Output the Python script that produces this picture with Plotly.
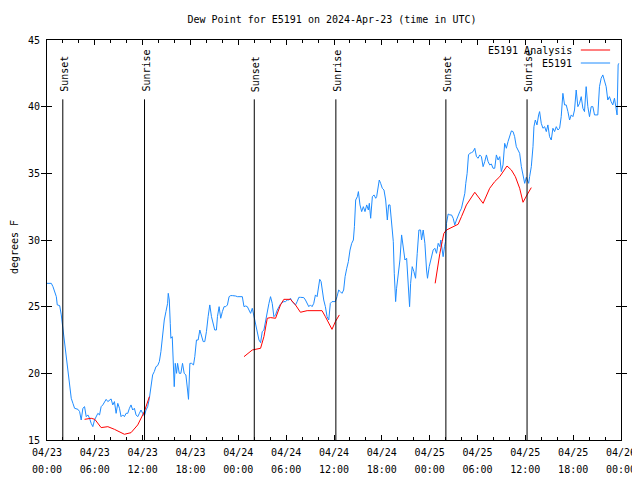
import pandas as pd
import plotly.graph_objects as go

# ---------------- data ----------------
start_date = "2024-04-23 00:00"
end_date = "2024-04-26 00:00"

# station observations (hours after start, degrees F)
obs_hours = [0.0, 0.54, 0.75, 0.96, 1.17, 1.29, 1.59, 1.79, 2.0, 2.21, 2.42, 2.63, 2.84, 3.04, 3.25, 3.46,
             3.88, 4.09, 4.29, 4.5, 4.71, 4.92, 5.13, 5.34, 5.54, 5.75, 5.96, 6.17, 6.38, 6.59, 6.79, 7.0,
             7.21, 7.42, 7.63, 7.84, 8.04, 8.25, 8.46, 8.67, 8.88, 9.09, 9.29, 9.5, 9.71, 9.92, 10.13, 10.34,
             10.54, 10.75, 10.96, 11.17, 11.38, 11.59, 11.79, 12.0, 12.21, 12.42, 12.63, 12.84, 13.04, 13.25,
             13.46, 13.67, 13.88, 14.09, 14.29, 14.5, 14.71, 14.92, 15.13, 15.21, 15.34, 15.46, 15.54, 15.71,
             15.88, 15.96, 16.09, 16.25, 16.38, 16.59, 16.79, 17.0, 17.21, 17.42, 17.63, 17.75, 17.92, 18.13,
             18.38, 18.54, 18.75, 18.96, 19.17, 19.38, 19.59, 19.79, 20.0, 20.21, 20.42, 20.63, 20.84, 21.04,
             21.25, 21.38, 21.59, 21.79, 22.0, 22.21, 22.42, 22.63, 22.84, 23.04, 23.25, 23.46, 23.67, 23.88,
             24.29, 24.5, 24.71, 24.92, 25.13, 25.34, 25.54, 25.75, 25.88, 26.0, 26.17, 26.38, 26.59, 26.79,
             27.0, 27.21, 27.42, 27.63, 27.84, 28.04, 28.25, 28.46, 28.67, 28.88, 29.09, 29.29, 29.5, 29.71,
             29.92, 30.13, 30.34, 30.54, 30.75, 30.96, 31.17, 31.38, 31.59, 31.79, 32.0, 32.21, 32.42, 32.63,
             32.84, 33.04, 33.25, 33.46, 33.67, 33.88, 34.09, 34.21, 34.38, 34.5, 34.71, 34.92, 35.13, 35.34,
             35.54, 35.75, 35.96, 36.17, 36.38, 36.59, 36.79, 37.0, 37.21, 37.39, 37.6, 37.8, 38.01, 38.22,
             38.43, 38.56, 38.72, 38.93, 39.06, 39.26, 39.47, 39.68, 39.89, 40.1, 40.31, 40.43, 40.6, 40.81,
             41.02, 41.23, 41.35, 41.56, 41.68, 41.85, 42.06, 42.27, 42.48, 42.69, 42.85, 43.02, 43.23, 43.44,
             43.56, 43.73, 43.85, 44.06, 44.27, 44.48, 44.69, 44.9, 45.11, 45.23, 45.4, 45.48, 45.61, 45.81,
             46.02, 46.23, 46.44, 46.65, 46.86, 46.98, 47.19, 47.4, 47.61, 47.73, 47.94, 48.23, 48.44, 48.65,
             48.86, 49.07, 49.28, 49.4, 49.57, 49.69, 49.86, 49.99, 50.11, 50.32, 50.53, 50.74, 50.95, 51.15,
             51.36, 51.57, 51.78, 51.99, 52.2, 52.41, 52.53, 52.7, 52.87, 53.03, 53.24, 53.45, 53.66, 53.87,
             54.08, 54.28, 54.49, 54.7, 54.91, 55.12, 55.33, 55.53, 55.74, 55.95, 56.16, 56.37, 56.58, 56.79,
             56.99, 57.2, 57.41, 57.62, 57.83, 58.04, 58.25, 58.46, 58.66, 58.87, 59.08, 59.29, 59.5, 59.71,
             59.92, 60.12, 60.25, 60.42, 60.54, 60.75, 60.96, 61.08, 61.25, 61.46, 61.67, 61.79, 62.0, 62.21,
             62.42, 62.63, 62.83, 63.04, 63.25, 63.46, 63.67, 63.88, 64.09, 64.3, 64.5, 64.71, 64.92, 65.13,
             65.34, 65.55, 65.76, 65.97, 66.17, 66.38, 66.59, 66.8, 67.01, 67.22, 67.42, 67.63, 67.84, 68.05,
             68.26, 68.47, 68.68, 68.88, 69.09, 69.3, 69.51, 69.72, 69.93, 70.14, 70.34, 70.55, 70.76, 70.97,
             71.18, 71.39, 71.51, 71.64, 71.72]
obs_values = [26.75, 26.75, 26.5, 26.13, 25.75, 25.13, 25.08, 24.38, 23.25, 22.25, 21.25, 20.0, 19.0, 18.13,
              17.75, 17.38, 17.3, 17.13, 16.5, 17.38, 17.5, 16.75, 16.88, 16.63, 16.25, 16.0, 16.5, 16.75,
              17.0, 16.88, 17.5, 17.63, 17.88, 18.05, 17.88, 18.0, 18.08, 17.63, 17.88, 17.0, 17.75, 17.38,
              16.75, 16.88, 16.75, 17.0, 17.0, 17.38, 17.63, 17.25, 17.38, 16.88, 16.75, 17.0, 17.25, 17.0,
              16.8, 17.25, 17.5, 18.13, 18.88, 19.88, 20.13, 20.5, 20.58, 20.88, 21.63, 23.13, 24.0, 24.63,
              25.25, 26.0, 25.5, 23.75, 22.63, 22.75, 20.0, 19.0, 20.75, 20.0, 20.75, 20.0, 20.0, 20.75, 20.0,
              19.88, 18.75, 18.05, 20.75, 20.75, 20.63, 21.25, 22.5, 22.5, 23.25, 22.88, 22.38, 22.38, 23.13,
              24.25, 25.13, 24.25, 23.63, 23.25, 23.25, 24.25, 25.0, 24.13, 24.63, 25.0, 25.0, 25.13, 25.75,
              25.83, 25.83, 25.83, 25.8, 25.75, 25.75, 25.75, 25.0, 25.05, 25.0, 24.75, 24.5, 24.88, 24.5,
              24.0, 23.5, 23.0, 22.5, 22.3, 23.13, 23.25, 24.0, 24.75, 25.25, 25.75, 25.25, 24.25, 24.38,
              24.75, 25.0, 25.2, 25.3, 25.38, 25.38, 25.5, 25.5, 25.63, 25.38, 25.25, 25.13, 25.38, 25.7,
              25.7, 25.68, 25.68, 25.5, 25.25, 25.0, 25.13, 25.0, 25.25, 25.88, 25.75, 26.63, 27.05, 26.88,
              26.25, 25.5, 25.0, 24.25, 24.0, 25.25, 25.38, 25.38, 25.38, 25.75, 26.25, 26.13, 26.0, 26.25,
              27.25, 27.88, 28.38, 29.25, 29.75, 30.0, 31.0, 33.0, 33.25, 33.63, 32.63, 32.13, 32.5, 32.13,
              32.63, 32.25, 32.75, 31.63, 33.25, 33.38, 33.13, 33.25, 34.0, 34.5, 34.25, 33.88, 33.75, 33.0,
              31.5, 32.63, 32.63, 31.0, 29.88, 27.5, 25.38, 26.38, 27.25, 28.5, 30.38, 29.38, 28.5, 28.63,
              27.5, 25.75, 25.0, 26.75, 28.0, 27.63, 27.13, 29.0, 30.75, 30.75, 30.0, 30.75, 29.75, 27.75,
              27.13, 28.0, 28.75, 29.25, 29.38, 29.0, 29.75, 29.5, 30.0, 29.0, 28.75, 29.5, 29.88, 31.25,
              31.95, 31.88, 31.88, 31.63, 31.13, 31.5, 31.88, 32.13, 32.38, 33.0, 33.5, 34.25, 35.0, 36.38,
              36.5, 36.55, 36.63, 36.88, 36.25, 36.13, 36.38, 36.25, 35.5, 35.88, 36.38, 35.88, 35.63, 35.7,
              35.38, 35.38, 36.38, 36.0, 36.25, 35.13, 35.63, 37.25, 36.88, 37.38, 37.88, 38.18, 38.13, 37.75,
              37.0, 36.75, 36.5, 35.5, 34.88, 34.25, 34.7, 34.5, 34.25, 34.75, 35.5, 37.0, 38.5, 39.0, 38.63,
              39.38, 39.63, 38.75, 38.38, 38.5, 38.13, 38.63, 37.75, 37.5, 38.38, 38.13, 38.5, 38.25, 38.38,
              39.25, 41.0, 40.13, 40.13, 39.63, 39.0, 39.38, 39.25, 39.75, 41.25, 40.0, 40.25, 40.75, 39.88,
              39.63, 41.5, 40.0, 39.25, 40.0, 40.0, 39.38, 39.38, 39.38, 41.5, 42.13, 42.38, 41.88, 41.5,
              40.5, 40.75, 40.38, 40.13, 40.63, 39.75, 39.38, 43.13, 43.25]

# analysis (hours after start, degrees F); None separates the three runs
ana_hours = [4.71, 5.54, 6.0, 6.38, 6.79, 7.63, 8.46, 9.71, 10.54, 11.38, 12.21, 12.84, None,
             24.71, 25.34, 25.75, 26.79, 27.21, 27.63, 28.04, 28.67, 29.29, 29.71, 30.54, 31.17, 31.79,
             32.63, 34.5, 34.92, 35.34, 35.75, 36.17, 36.67, None,
             48.69, 48.94, 49.28, 49.57, 49.78, 50.11, 50.53, 51.57, 51.99, 52.61, 53.66, 54.7, 55.53,
             56.16, 56.79, 57.7, 58.25, 58.75, 59.29, 59.71, 60.21, 60.75]
ana_values = [16.55, 16.63, 16.55, 16.25, 15.93, 16.0, 15.8, 15.43, 15.55, 16.13, 17.13, 18.25, None,
              21.25, 21.55, 21.75, 21.88, 22.75, 24.13, 24.18, 24.13, 25.13, 25.55, 25.55, 25.13, 24.58,
              24.7, 24.7, 24.25, 23.75, 23.3, 23.88, 24.38, None,
              26.75, 27.75, 29.0, 29.88, 30.5, 30.75, 30.88, 31.18, 31.75, 32.63, 33.58, 32.75, 33.88,
              34.38, 34.75, 35.55, 35.25, 34.75, 33.88, 32.83, 33.38, 33.93]

event_times = ["2024-04-23 01:59", "2024-04-23 12:14", "2024-04-24 02:00",
               "2024-04-24 12:14", "2024-04-25 02:02", "2024-04-25 12:13"]
event_labels = ["Sunset", "Sunrise", "Sunset", "Sunrise", "Sunset", "Sunrise"]

series_names = ["E5191 Analysis", "E5191"]
title_text = "Dew Point for E5191 on 2024-Apr-23 (time in UTC)"
y_title = "degrees F"

# ---------------- figure ----------------
base = pd.Timestamp(start_date)
obs_x = [base + pd.Timedelta(hours=h) for h in obs_hours]
ana_x = [None if h is None else base + pd.Timedelta(hours=h) for h in ana_hours]

FONT = "DejaVu Sans Mono"
RED = "#ff0000"
BLUE = "#1e8cff"
SIX_H = 6 * 3600 * 1000
TWO_H = 2 * 3600 * 1000
# the page body has an 8px margin, so the figure is sized to fit the 640x480 window
W, H = 632, 472

fig = go.Figure()
fig.add_trace(go.Scatter(x=obs_x, y=obs_values, mode="lines", name=series_names[1],
                         line=dict(color=BLUE, width=1), showlegend=False))
fig.add_trace(go.Scatter(x=ana_x, y=ana_values, mode="lines", name=series_names[0], xaxis="x2",
                         line=dict(color=RED, width=1), connectgaps=False, showlegend=False))

# sunrise / sunset markers
line_top = 40.55
label_end = 41.1
for t, lab in zip(event_times, event_labels):
    fig.add_shape(type="line", xref="x", yref="y", x0=t, x1=t, y0=15, y1=line_top,
                  line=dict(color="black", width=1), layer="above")
    fig.add_annotation(x=t, y=label_end + len(lab) * 0.225, xref="x", yref="y", text=lab,
                       textangle=-90, showarrow=False, xanchor="center", yanchor="middle",
                       font=dict(family=FONT, size=10, color="black"), xshift=1)

# manual legend (text left of sample, gnuplot style)
legend_rows = [(series_names[0], RED, 0.975), (series_names[1], BLUE, 0.9425)]
for name, col, yy in legend_rows:
    fig.add_annotation(x=0.918, y=yy, xref="paper", yref="paper", text=name, showarrow=False,
                       xanchor="right", yanchor="middle", font=dict(family=FONT, size=10, color="black"))
    fig.add_shape(type="line", xref="paper", yref="paper", x0=0.930, x1=0.981, y0=yy, y1=yy,
                  line=dict(color=col, width=1))

# y axis title as rotated text
fig.add_annotation(x=-39 / 574, y=0.481, xref="paper", yref="paper", text=y_title, textangle=-90,
                   showarrow=False, xanchor="left", yanchor="middle", borderpad=0,
                   font=dict(family=FONT, size=10, color="black"))

fig.update_layout(
    width=W, height=H,
    margin=dict(l=39, r=19, t=32, b=40, autoexpand=False),
    paper_bgcolor="white", plot_bgcolor="white",
    font=dict(family=FONT, size=10, color="black"),
    title=dict(text=title_text, x=(332 - 47) / 574, xref="paper", xanchor="center",
               y=1 - 11 / H, yref="container", yanchor="middle", automargin=False,
               font=dict(family=FONT, size=10, color="black")),
    showlegend=False,
    xaxis=dict(
        type="date", range=[start_date, end_date], automargin=False,
        tick0=start_date, dtick=SIX_H, tickformat="%m/%d", ticklabelstandoff=3,
        ticks="inside", ticklen=5, tickcolor="black", tickwidth=1,
        showline=True, linecolor="black", linewidth=1, mirror="allticks",
        showgrid=False, zeroline=False,
        minor=dict(dtick=TWO_H, ticks="inside", ticklen=3, tickcolor="black", showgrid=False),
        tickfont=dict(family=FONT, size=10, color="black"),
    ),
    xaxis2=dict(
        type="date", range=[start_date, end_date], automargin=False, matches="x",
        overlaying="x", anchor="y", side="bottom",
        tick0=start_date, dtick=SIX_H, tickformat="%H:%M", ticklabelstandoff=22,
        ticks="", showline=False, showgrid=False, zeroline=False,
        tickfont=dict(family=FONT, size=10, color="black"),
    ),
    yaxis=dict(
        range=[15, 45], dtick=5, tick0=15, automargin=False, ticklabelstandoff=4,
        ticks="inside", ticklen=5, tickcolor="black", tickwidth=1,
        showline=True, linecolor="black", linewidth=1, mirror="allticks",
        showgrid=False, zeroline=False,
        tickfont=dict(family=FONT, size=10, color="black"),
    ),
)

fig.write_html("out.html")
